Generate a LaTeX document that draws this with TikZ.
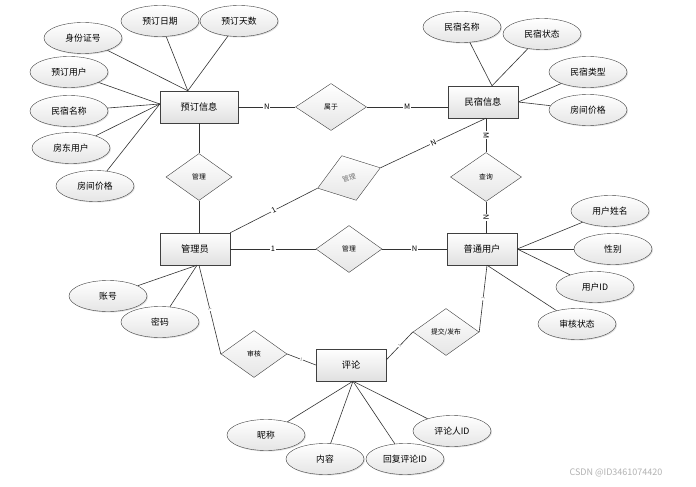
\documentclass[tikz,border=0pt]{standalone}
\usepackage{fontspec}
\setmainfont{Noto Sans CJK SC}
\usetikzlibrary{shapes.geometric,shadows,calc}

\begin{document}
\begin{tikzpicture}[x=1pt,y=-1pt,
    every node/.style={font=\fontsize{8.8}{10}\selectfont},
    entity/.style={draw=black!75,rectangle,minimum width=70pt,minimum height=32pt,
        top color=white,bottom color=black!12,font=\fontsize{9.2}{10}\selectfont,
        drop shadow={shadow xshift=1.2pt,shadow yshift=-1.2pt,opacity=0.3}},
    attr/.style={draw=black!75,ellipse,minimum width=78pt,minimum height=31pt,inner sep=0pt,
        top color=white,bottom color=black!10,
        drop shadow={shadow xshift=1pt,shadow yshift=-1pt,opacity=0.25}},
    rel/.style={draw=black!75,diamond,minimum width=66pt,minimum height=47pt,inner sep=0pt,
        top color=white,bottom color=black!10,font=\fontsize{6.8}{7}\selectfont},
    card/.style={midway,sloped,fill=white,inner sep=0.8pt,font=\fontsize{7.5}{7.5}\selectfont},
    tick/.style={midway,sloped,fill=white,inner sep=0.3pt,font=\fontsize{4}{4}\selectfont,text=black!60},
    line/.style={draw=black!80,line width=0.6pt}]
    \path[use as bounding box,fill=white] (0,0) rectangle (696,487);

    % entities
    \node[entity,minimum width=78pt] (yd) at (199,107) {预订信息};
    \node[entity] (ms) at (483,102) {民宿信息};
    \node[entity] (gly) at (195,249) {管理员};
    \node[entity] (pt) at (482,249) {普通用户};
    \node[entity] (pl) at (351,365) {评论};

    % relations
    \node[rel] (gl1) at (199,177) {管理};
    \node[rel,minimum width=71pt] (sy) at (331,107) {属于};
    \node[rel,rotate=18,text=black!55] (gl2) at (349,178) {管理};
    \node[rel,minimum width=71pt,minimum height=49pt] (cx) at (486,177) {查询};
    \node[rel] (gl3) at (349,249) {管理};
    \node[rel] (sh) at (254,354) {审核};
    \node[rel] (tj) at (446,332) {提交/发布};

    \draw[line] (yd) -- node[card]{N} (sy);
    \draw[line] (sy.east) -- node[card]{M} (sy.east -| ms.west);
    \draw[line] (yd) -- (gl1);
    \draw[line] (gl1.south) -- (gl1.south |- gly.north);
    \draw[line] (gly.north east) -- node[card]{1} (gl2.west);
    \draw[line] (gl2.east) -- node[card]{N} ($(ms.south)+(3,0)$);
    \draw[line] (ms.south -| cx.north) -- node[card]{M} (cx.north);
    \draw[line] (cx.south) -- node[card]{N} (cx.south |- pt.north);
    \draw[line] (gly) -- node[card]{1} (gl3);
    \draw[line] (gl3) -- node[card]{N} (pt);
    \draw[line] ($(gly.south)+(4,0)$) -- node[tick]{1} (sh.west);
    \draw[line] (sh.east) -- node[tick]{1} (pl.west);
    \draw[line] ($(pl.east)+(0,-5)$) -- node[tick]{1} (tj.west);
    \draw[line] (tj.east) -- node[tick]{1} ($(pt.south)+(5,0)$);

    % attributes of 预订信息
    \node[attr] (sfz) at (83,38) {身份证号};
    \node[attr] (ydrq) at (160,21) {预订日期};
    \node[attr] (ydts) at (239,21) {预订天数};
    \node[attr] (ydyh) at (69,72) {预订用户};
    \node[attr] (msmc1) at (69,111) {民宿名称};
    \node[attr] (fdyh) at (71,148) {房东用户};
    \node[attr] (fjjg1) at (95,186) {房间价格};
    \coordinate (ydtop) at ($(yd.north west)+(28,0)$);
    \coordinate (ydleft) at ($(yd.west)+(0,-3)$);
    \foreach \a in {sfz,ydrq,ydts}
        \draw[line] (\a) -- (ydtop);
    \foreach \a in {ydyh,msmc1,fdyh,fjjg1}
        \draw[line] (\a) -- (ydleft);

    % attributes of 民宿信息
    \node[attr] (msmc2) at (462,27) {民宿名称};
    \node[attr] (mszt) at (542,34) {民宿状态};
    \node[attr] (mslx) at (588,72) {民宿类型};
    \node[attr] (fjjg2) at (588,110) {房间价格};
    \draw[line] (msmc2) -- ($(ms.north)+(9,0)$);
    \draw[line] (mszt) -- ($(ms.north)+(9,0)$);
    \draw[line] (mslx) -- (ms.east);
    \draw[line] (fjjg2) -- (ms.east);

    % attributes of 管理员
    \node[attr] (zh) at (108,296) {账号};
    \node[attr] (mm) at (160,322) {密码};
    \draw[line] (zh) -- ($(gly.south)+(2,0)$);
    \draw[line] (mm) -- ($(gly.south)+(2,0)$);

    % attributes of 普通用户
    \node[attr] (yhxm) at (610,211) {用户姓名};
    \node[attr] (xb) at (613,249) {性别};
    \node[attr] (yhid) at (595,287) {用户ID};
    \node[attr] (shzt) at (577,324) {审核状态};
    \foreach \a in {yhxm,xb,yhid}
        \draw[line] (\a) -- (pt.east);
    \draw[line] (shzt) -- ($(pt.south)+(5,0)$);

    % attributes of 评论
    \node[attr] (nc) at (266,435) {昵称};
    \node[attr] (nr) at (325,459) {内容};
    \node[attr] (hfid) at (405,459) {回复评论ID};
    \node[attr] (plrid) at (452,431) {评论人ID};
    \foreach \a in {nc,nr,hfid,plrid}
        \draw[line] (\a) -- ($(pl.south)+(2,0)$);

    \node[text=black!30,font=\fontsize{9}{10}\selectfont] (wm) at (616,473) {CSDN @ID3461074420};
\end{tikzpicture}
\end{document}
